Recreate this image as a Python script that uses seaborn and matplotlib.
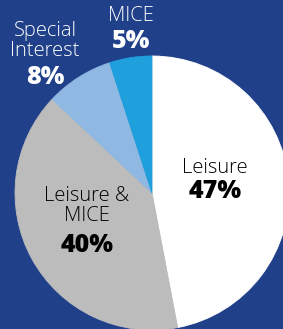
import seaborn as sns
import matplotlib.pyplot as plt

segments = ['Leisure', 'Leisure &\nMICE', 'Special\nInterest', 'MICE']
shares = [47, 40, 8, 5]
pct_labels = ['47%', '40%', '8%', '5%']
colors = ['#ffffff', '#bcbcbc', '#8fb9e2', '#1f9fdb']

sns.set_theme(style='white')
plt.rcParams['font.family'] = ['Open Sans', 'DejaVu Sans']

bg = '#20408a'
fig = plt.figure(figsize=(2.83, 3.29), dpi=100, facecolor=bg)
ax = fig.add_axes([0, 0, 1, 1])
ax.set_facecolor(bg)

# pie placed in pixel units of the 283x329 canvas
wedges, _ = ax.pie(shares, colors=colors, startangle=90, counterclock=False,
                   center=(152, 136), radius=137)
for w in wedges:
    w.set_edgecolor(w.get_facecolor())
    w.set_linewidth(0.6)
ax.set_xlim(0, 283)
ax.set_ylim(0, 329)
ax.set_aspect('equal')
ax.axis('off')

# label positions (x, y of name, y of pct, text colour)
spots = [(215, 161, 137, 'black'),
         (87, 123, 84, 'black'),
         (45, 288, 252, 'white'),
         (131, 313, 287, 'white')]
for name, pct, (x, yn, yp, c) in zip(segments, pct_labels, spots):
    ax.text(x, yn, name, ha='center', va='center', color=c, fontsize=14.5,
            fontweight='light', linespacing=0.95)
    ax.text(x, yp, pct, ha='center', va='center', color=c, fontsize=18,
            fontweight=800)

fig.savefig('out.png', dpi=100, facecolor=bg)
